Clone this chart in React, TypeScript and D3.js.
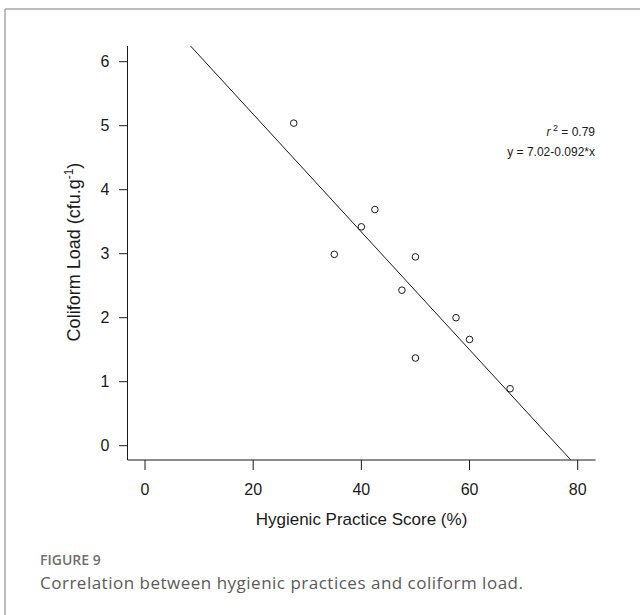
import React from "react";
import * as d3 from "d3";

// Hygienic practice score (%) and coliform load per sample
const hygieneScores = [27.5, 42.5, 40.0, 35.0, 50.0, 47.5, 57.5, 60.0, 50.0, 67.5];
const coliformLoads = [5.04, 3.69, 3.42, 2.99, 2.95, 2.43, 2.0, 1.66, 1.37, 0.89];

const xTicks = [0, 20, 40, 60, 80];
const yTicks = [0, 1, 2, 3, 4, 5, 6];

// Fitted regression y = a + b*x
const intercept = 7.02;
const slope = -0.092;

const W = 640;
const H = 615;
const plot = { left: 127.5, right: 595.5, top: 46, bottom: 460 };

export default function App() {
  const x = d3.scaleLinear().domain([0, 80]).range([145, 577.7]);
  const y = d3.scaleLinear().domain([0, 6]).range([445.7, 61.7]);

  const points = hygieneScores.map((h, i) => ({ h, c: coliformLoads[i] }));

  // Regression line clipped to the plotting region
  const yTopVal = y.invert(plot.top);
  const yBotVal = y.invert(plot.bottom);
  const xA = (yTopVal - intercept) / slope;
  const xB = (yBotVal - intercept) / slope;
  const fitLine = d3.line<[number, number]>()
    .x((d) => x(d[0]))
    .y((d) => y(d[1]));
  const fitData: [number, number][] = [
    [xA, intercept + slope * xA],
    [xB, intercept + slope * xB],
  ];

  const font = "'Liberation Sans', Arial, sans-serif";
  const ink = "#1a1a1a";
  const captionFont = "'Open Sans', 'Noto Sans', sans-serif";

  return (
    <svg
      width={W}
      height={H}
      style={{ position: "absolute", left: 0, top: 0, background: "#fff" }}
    >
      {/* figure frame */}
      <line x1={5} y1={9} x2={W} y2={9} stroke="#a6a6a6" strokeWidth={1.5} />
      <line x1={5} y1={9} x2={5} y2={H} stroke="#a6a6a6" strokeWidth={1.5} />

      <defs>
        <clipPath id="plot-area">
          <rect x={plot.left} y={plot.top} width={plot.right - plot.left} height={plot.bottom - plot.top} />
        </clipPath>
      </defs>

      {/* axes */}
      <line x1={plot.left} y1={plot.top} x2={plot.left} y2={plot.bottom} stroke={ink} strokeWidth={1} />
      <line x1={plot.left} y1={plot.bottom} x2={plot.right} y2={plot.bottom} stroke={ink} strokeWidth={1} />

      {yTicks.map((t) => (
        <g key={`y${t}`}>
          <line x1={119} x2={plot.left} y1={y(t)} y2={y(t)} stroke={ink} strokeWidth={1} />
          <text x={109.5} y={y(t)} dy="0.36em" textAnchor="end" fontFamily={font} fontSize={16} fill={ink}>
            {t}
          </text>
        </g>
      ))}

      {xTicks.map((t) => (
        <g key={`x${t}`}>
          <line x1={x(t)} x2={x(t)} y1={plot.bottom} y2={470} stroke={ink} strokeWidth={1} />
          <text x={x(t)} y={494.5} textAnchor="middle" fontFamily={font} fontSize={16} fill={ink}>
            {t}
          </text>
        </g>
      ))}

      {/* axis titles */}
      <text x={361.5} y={525} textAnchor="middle" fontFamily={font} fontSize={17} fill={ink}>
        Hygienic Practice Score (%)
      </text>
      <text
        transform={`translate(80,252) rotate(-90)`}
        textAnchor="middle"
        fontFamily={font}
        fontSize={18}
        fill={ink}
      >
        Coliform Load (cfu.g
        <tspan dy={-7} fontSize={12}>-1</tspan>
        <tspan dy={7}>)</tspan>
      </text>

      {/* regression line */}
      <path d={fitLine(fitData) ?? ""} stroke={ink} strokeWidth={1} fill="none" clipPath="url(#plot-area)" />

      {/* observations */}
      {points.map((p, i) => (
        <circle key={i} cx={x(p.h)} cy={y(p.c)} r={3.3} fill="none" stroke={ink} strokeWidth={1} />
      ))}

      {/* fit statistics */}
      <text x={595} y={135.5} textAnchor="end" fontFamily={font} fontSize={12} fill={ink}>
        <tspan fontStyle="italic">r</tspan>
        <tspan dy={-5} fontSize={9}> 2</tspan>
        <tspan dy={5}> = 0.79</tspan>
      </text>
      <text x={595} y={156} textAnchor="end" fontFamily={font} fontSize={12} fill={ink}>
        y = 7.02-0.092*x
      </text>

      {/* caption */}
      <text x={40} y={565} fontFamily={captionFont} fontSize={14} fontWeight={600} fill="#6f6f6f">
        FIGURE 9
      </text>
      <text x={40} y={588.5} fontFamily={captionFont} fontSize={17} letterSpacing={0.5} fill="#5a5a5a">
        Correlation between hygienic practices and coliform load.
      </text>
    </svg>
  );
}
